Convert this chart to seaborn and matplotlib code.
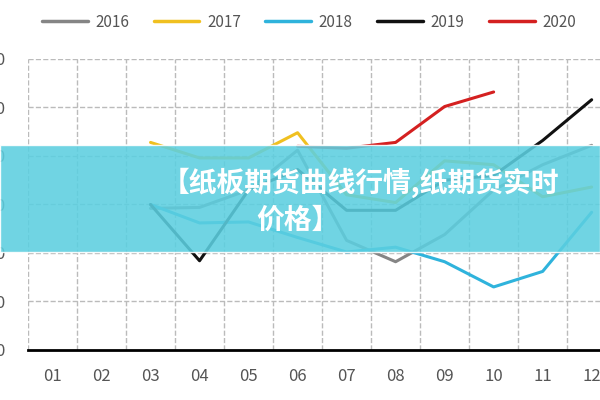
import matplotlib
matplotlib.use("Agg")
import matplotlib.pyplot as plt
import seaborn as sns
import pandas as pd
from matplotlib.patches import Rectangle
from matplotlib.lines import Line2D

months = ["01","02","03","04","05","06","07","08","09","10","11","12"]
s2016 = [None,None,3146,3147,3165,3206,3113,3091,3119,3165,3191,3211]
s2017 = [None,None,3214,3198,3198,3224,3160,3152,3195,3191,3158,3168]
s2018 = [None,None,3150,3131,3132,3116,3101,3106,3091,3065,3081,3142]
s2019 = [None,None,3150,3092,3165,3186,3144,3144,3175,3180,3216,3258]
s2020 = [None,None,None,None,None,3210,3208,3214,3251,3266,None,None]
series = {"2016": s2016, "2017": s2017, "2018": s2018, "2019": s2019, "2020": s2020}
colors = {"2016": "#858585", "2017": "#f0c020", "2018": "#2fb3dc", "2019": "#111111", "2020": "#d42020"}
yticks = [3000, 3050, 3100, 3150, 3200, 3250, 3300]

rows = []
for k, v in series.items():
    for i, val in enumerate(v):
        if val is not None:
            rows.append({"x": i + 1, "y": val, "year": k})
df = pd.DataFrame(rows)

sns.set_theme(style="white")
plt.rcParams['font.family'] = ['Noto Sans CJK SC', 'DejaVu Sans']
fig = plt.figure(figsize=(6, 4), dpi=100)
ax = fig.add_axes([28/600, 50/400, 572/600, 291/400])
sns.lineplot(data=df, x="x", y="y", hue="year", palette=colors, linewidth=2.2, ax=ax, legend=False)
ax.set_xlim(0.5, 12.17)
ax.set_ylim(3000, 3300)
ax.set_xticks(range(1, 13))
ax.set_xticklabels(months, fontsize=12, color="#555555")
ax.set_yticks(yticks)
ax.set_yticklabels([str(t) for t in yticks], fontsize=12, color="#555555")
ax.set_xlabel(""); ax.set_ylabel("")
for xv in [0.5 + i for i in range(12)]:
    ax.axvline(xv, color="#bbbbbb", linestyle="--", linewidth=1, zorder=0)
for yv in yticks[1:]:
    ax.axhline(yv, color="#bbbbbb", linestyle="--", linewidth=1, zorder=0)
for s in ["top", "right", "left"]:
    ax.spines[s].set_visible(False)
ax.spines["bottom"].set_color("black")
ax.spines["bottom"].set_linewidth(2)
ax.tick_params(axis="x", length=6, width=2, color="black", direction="inout", pad=10)
ax.tick_params(axis="y", length=0, pad=16)

handles = [Line2D([0], [0], color=colors[k], lw=2.5) for k in series]
fig.legend(handles, list(series.keys()), loc="upper center", bbox_to_anchor=(0.515, 1.0), ncol=5,
           frameon=False, fontsize=11, handlelength=3.0, handletextpad=0.5, columnspacing=1.6,
           labelcolor="#555555")

fig.patches.append(Rectangle((0, 1 - 252/400), 1, 107/400, transform=fig.transFigure,
                             facecolor="#5ccfe0", alpha=0.88, zorder=5))
fig.text(0.6, 1 - 183/400, "【纸板期货曲线行情,纸期货实时", ha="center", va="center",
         fontsize=20, fontweight="bold", color="white", zorder=6)
fig.text(0.497, 1 - 221/400, "价格】", ha="center", va="center",
         fontsize=20, fontweight="bold", color="white", zorder=6)
fig.savefig("out.png", dpi=100)
